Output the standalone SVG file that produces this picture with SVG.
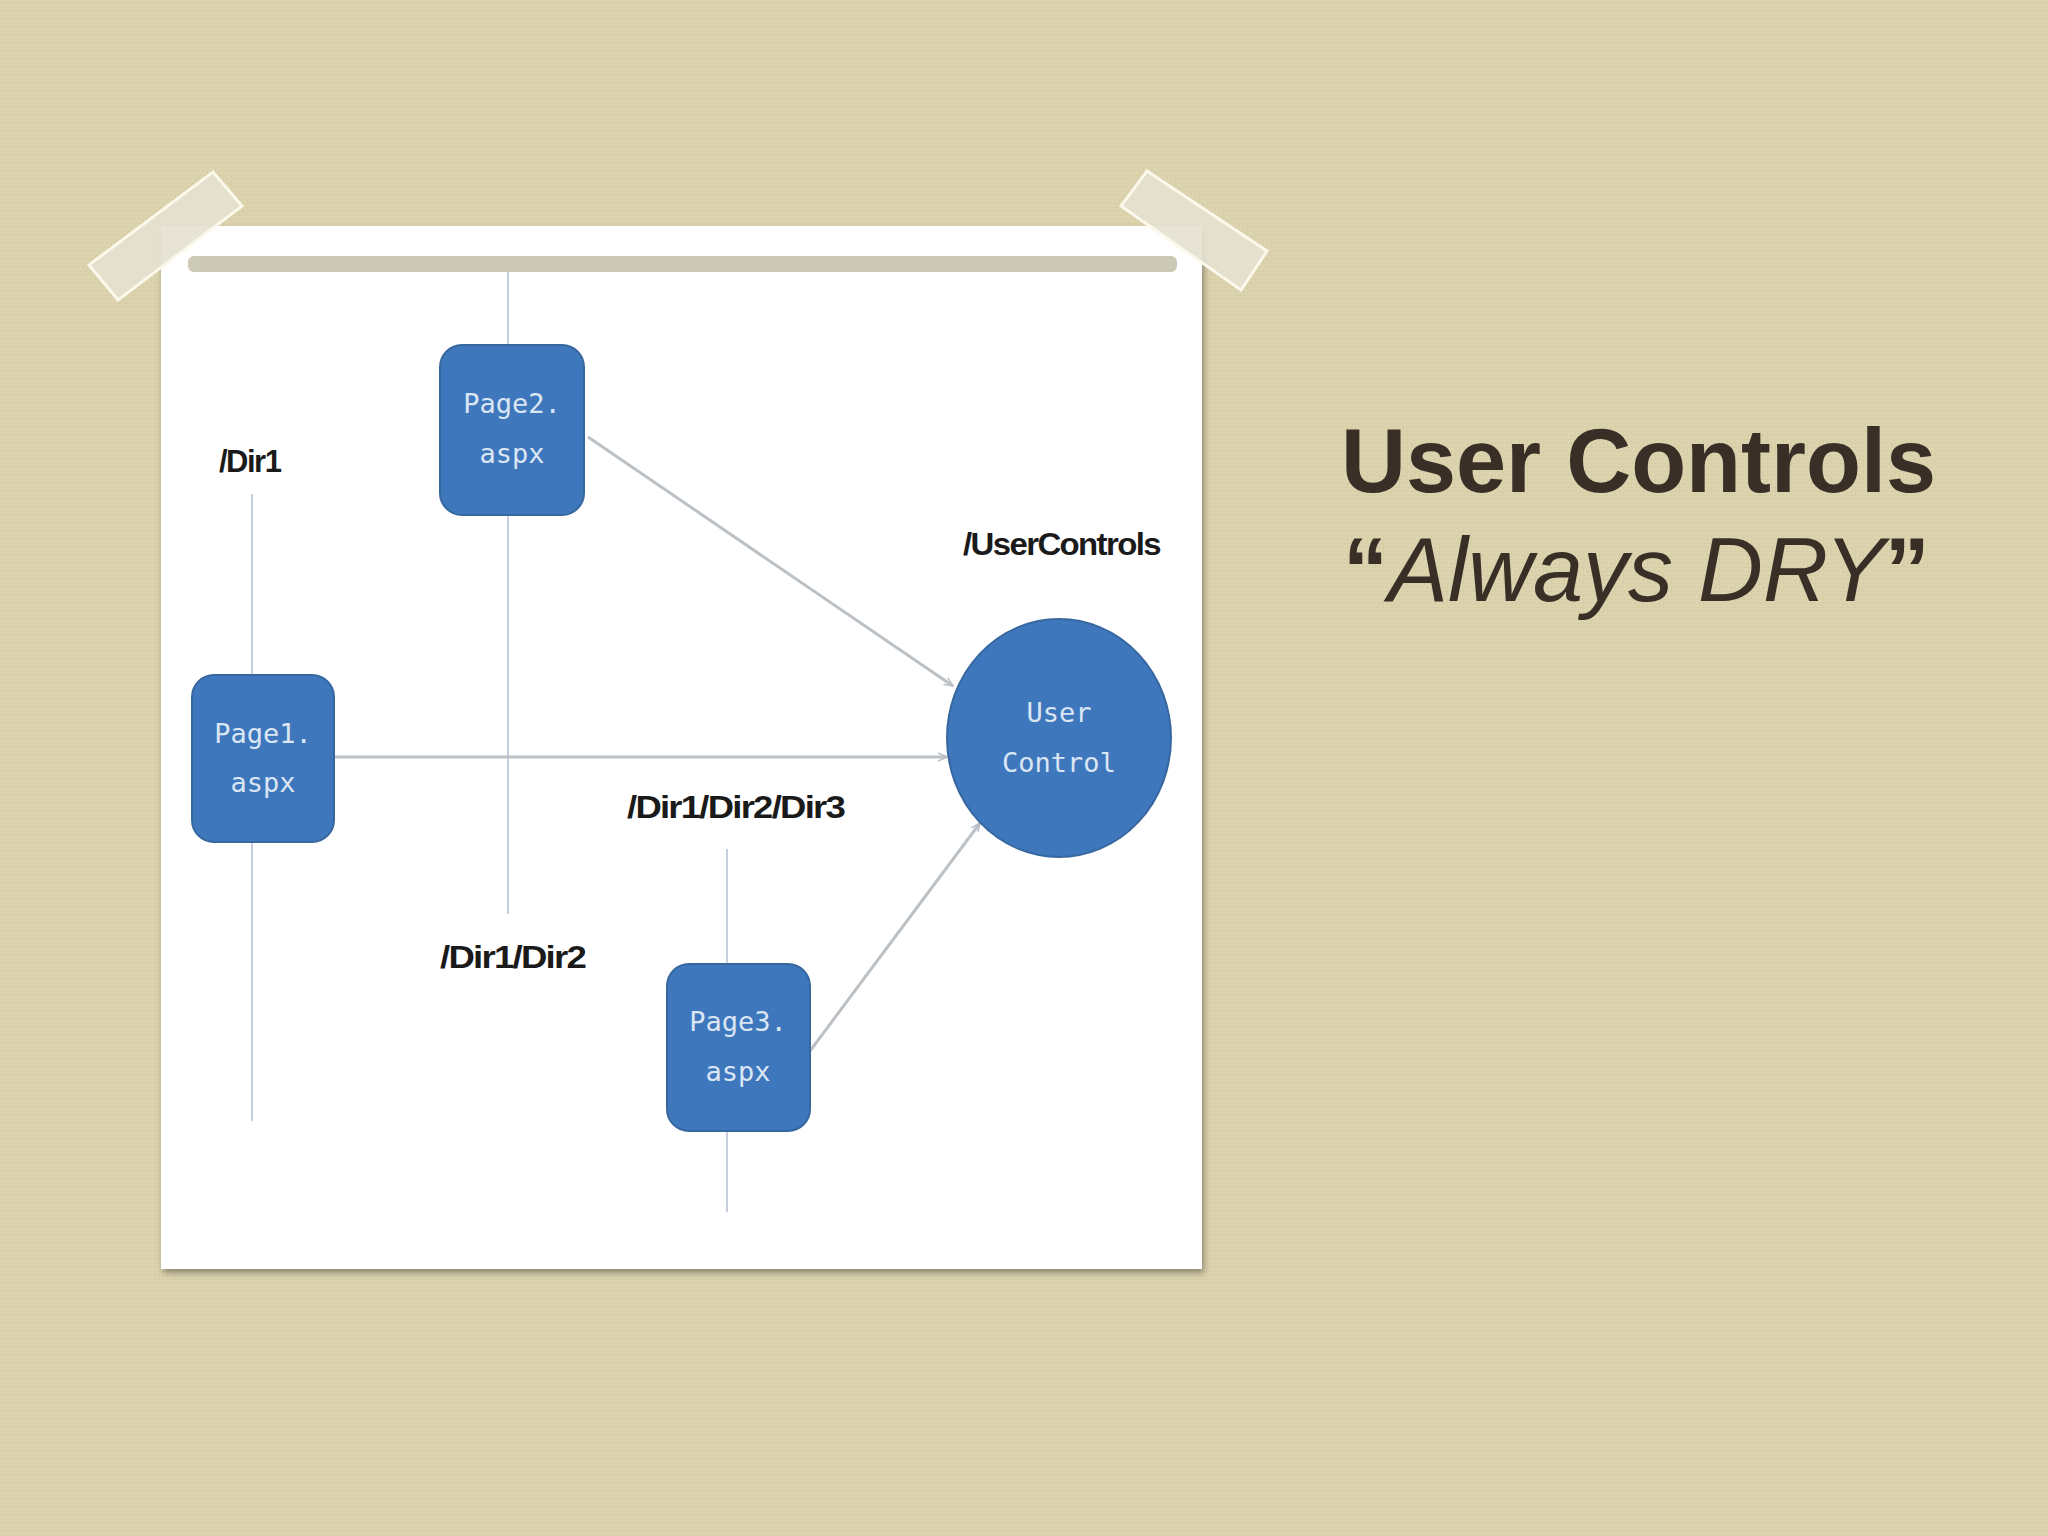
<svg xmlns="http://www.w3.org/2000/svg" width="2048" height="1536" viewBox="0 0 2048 1536">
<defs>
<pattern id="bg" width="8" height="8" patternUnits="userSpaceOnUse">
<rect width="8" height="8" fill="#d8cfa8"/>
<rect x="1" y="1" width="5" height="5" fill="none" stroke="#e0d8b6" stroke-width="1"/>
</pattern>
<filter id="sh" x="-5%" y="-5%" width="110%" height="110%">
<feGaussianBlur in="SourceAlpha" stdDeviation="3"/>
<feOffset dx="2" dy="4"/>
<feComponentTransfer><feFuncA type="linear" slope="0.35"/></feComponentTransfer>
<feMerge><feMergeNode/><feMergeNode in="SourceGraphic"/></feMerge>
</filter>
<marker id="arr" markerWidth="10" markerHeight="10" refX="9" refY="5" orient="auto" markerUnits="userSpaceOnUse">
<path d="M0,1 L9,5 L0,9" fill="none" stroke="#b9bec4" stroke-width="1.5"/>
</marker>
</defs>
<style>
.node{fill:#3f77bd;stroke:#37679f;stroke-width:2}
.ntxt{font-family:"DejaVu Sans Mono","Liberation Mono",monospace;font-size:27px;fill:#dbe6f4;text-anchor:middle}
.lbl{font-family:"Liberation Sans",Arial,sans-serif;font-weight:bold;font-size:31px;fill:#1a1a1a;letter-spacing:-1.5px}
.guide{stroke:#c6d0dc;stroke-width:2;fill:none}
.conn{stroke:#bcc1c6;stroke-width:3;fill:none}
.tape{fill:#e4e1d0;fill-opacity:0.9;stroke:#fbf8ec;stroke-width:3}
.title{font-family:"Liberation Sans",Arial,sans-serif;fill:#3a2f27}
</style>
<rect width="2048" height="1536" fill="url(#bg)"/>

<g id="paper">
<rect x="161" y="226" width="1041" height="1043" fill="#ffffff" filter="url(#sh)"/>
<rect x="188" y="256" width="989" height="16" rx="6" fill="#cdc9b7"/>
</g>
<g id="tapes">
<polygon class="tape" points="89,265 213,172 242,206 118,300"/>
<polygon class="tape" points="1121,206 1147,171 1267,251 1241,290"/>
</g>

<g id="guides">
<line class="guide" x1="252" y1="494" x2="252" y2="1121"/>
<line class="guide" x1="508" y1="272" x2="508" y2="914"/>
<line class="guide" x1="727" y1="849" x2="727" y2="1212"/>
</g>

<g id="connectors">
<line class="conn" x1="334" y1="757" x2="947" y2="757" marker-end="url(#arr)"/>
<line class="conn" x1="588" y1="437" x2="953" y2="686" marker-end="url(#arr)"/>
<line class="conn" x1="810" y1="1051" x2="980" y2="823" marker-end="url(#arr)"/>
</g>

<g id="page2">
<rect class="node" x="440" y="345" width="144" height="170" rx="22"/>
<text class="ntxt" x="512" y="413">Page2.</text>
<text class="ntxt" x="512" y="463">aspx</text>
</g>
<g id="page1">
<rect class="node" x="192" y="675" width="142" height="167" rx="22"/>
<text class="ntxt" x="263" y="743">Page1.</text>
<text class="ntxt" x="263" y="792">aspx</text>
</g>
<g id="page3">
<rect class="node" x="667" y="964" width="143" height="167" rx="22"/>
<text class="ntxt" x="738" y="1031">Page3.</text>
<text class="ntxt" x="738" y="1081">aspx</text>
</g>
<g id="usercontrol">
<ellipse class="node" cx="1059" cy="738" rx="112" ry="119"/>
<text class="ntxt" x="1059" y="722" font-family="Liberation Sans Narrow,Liberation Sans,sans-serif">User</text>
<text class="ntxt" x="1059" y="772" font-family="Liberation Sans Narrow,Liberation Sans,sans-serif">Control</text>
</g>

<g id="labels">
<text class="lbl" x="219" y="472">/Dir1</text>
<text class="lbl" x="963" y="555" textLength="197" lengthAdjust="spacingAndGlyphs">/UserControls</text>
<text class="lbl" x="627" y="818" textLength="217" lengthAdjust="spacingAndGlyphs">/Dir1/Dir2/Dir3</text>
<text class="lbl" x="440" y="968" textLength="145" lengthAdjust="spacingAndGlyphs">/Dir1/Dir2</text>
</g>

<g id="title">
<text class="title" x="1341" y="492" font-size="90" font-weight="bold">User Controls</text>
<text class="title" x="1343" y="601" font-size="90"><tspan font-weight="bold">“</tspan><tspan font-style="italic">Always DRY</tspan><tspan font-weight="bold">”</tspan></text>
</g>
</svg>
